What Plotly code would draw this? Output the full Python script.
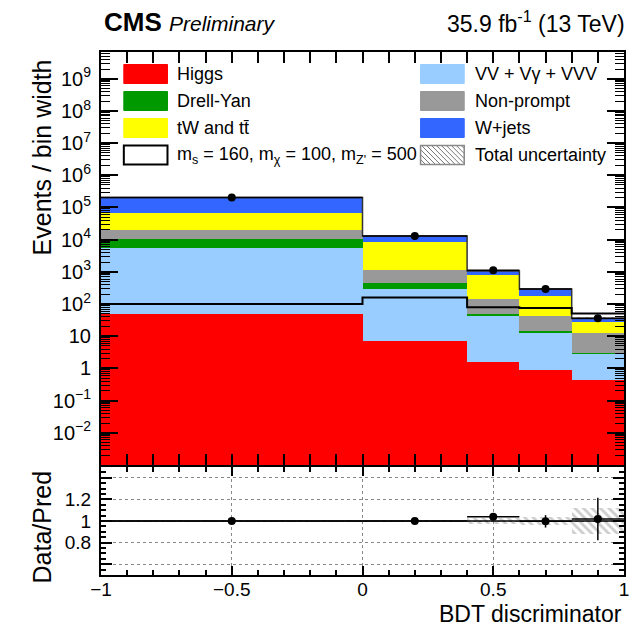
import plotly.graph_objects as go

# ---- figure geometry (pixels) ----
W, H = 641, 628
ML, MR, MT, MB = 101, 13, 52, 53
PW = W - ML - MR
PH = H - MT - MB
MAIN_BOTTOM_PX = 465
RATIO_TOP_PX = 467


def px_x(x):
    return (x - ML) / PW


def px_y(y):
    return (H - MB - y) / PH


# ---- binning ----
edges = [-1.0, 0.0, 0.4, 0.6, 0.8, 1.0]
centers = [-0.5, 0.2, 0.5, 0.7, 0.9]
half_widths = [0.5, 0.2, 0.1, 0.1, 0.1]
widths = [2 * h for h in half_widths]

# ---- background yields per bin (events / bin width) ----
higgs = [49, 7.3, 1.55, 0.89, 0.45]
vv = [5350, 293, 40.5, 12.1, 2.45]
drell_yan = [5100, 144, 7.0, 1.8, 0.02]
nonprompt = [10000, 726, 96, 28.2, 10.0]
top_quark = [46500, 7330, 649, 131, 14.1]
wjets = [138000, 4400, 276, 122, 8.6]

# ---- signal, data and uncertainties ----
signal = [100, 160, 79, 76, 51]
data = [205000, 12900, 1113, 295, 36.3]
data_err = [450, 115, 33, 17, 7.0]
rel_unc = [0.005, 0.01, 0.03, 0.04, 0.12]

# y-axis tick positions and labels of the main panel
major_exponents = list(range(-2, 10))
major_ticks = [10.0 ** e for e in major_exponents]
major_labels = ["1" if e == 0 else "10" if e == 1 else
                "10<sup>%s</sup>" % str(e).replace("-", "\u2212") for e in major_exponents]
minor_ticks = [m * 10.0 ** e for e in range(-3, 10) for m in range(2, 10)]

processes = [
    ("Higgs", higgs, "#FF0000"),
    ("VV + Vγ + VVV", vv, "#99CCFF"),
    ("Drell-Yan", drell_yan, "#009900"),
    ("Non-prompt", nonprompt, "#999999"),
    ("tW and tt̄", top_quark, "#FFFF00"),
    ("W+jets", wjets, "#3366FF"),
]

fig = go.Figure()

# stacked backgrounds, drawn with explicit bases so the stack is exact
base = [1e-5] * len(centers)
for name, vals, col in processes:
    fig.add_trace(go.Bar(
        x=centers, y=vals, base=list(base), width=widths, name=name,
        marker=dict(color=col, line=dict(width=0)),
        xaxis="x", yaxis="y", showlegend=False, hoverinfo="skip",
    ))
    base = [b + v for b, v in zip(base, vals)]

total = base

# total uncertainty band on the stack
fig.add_trace(go.Bar(
    x=centers, y=[2 * t * u for t, u in zip(total, rel_unc)],
    base=[t * (1 - u) for t, u in zip(total, rel_unc)], width=widths,
    marker=dict(color="rgba(0,0,0,0)",
                pattern=dict(shape="\\", fgcolor="#666666", size=6, solidity=0.3),
                line=dict(width=0)),
    xaxis="x", yaxis="y", showlegend=False, hoverinfo="skip",
))

# outline of the total prediction
fig.add_trace(go.Scatter(
    x=edges, y=total + [total[-1]], mode="lines", line=dict(shape="hv", color="#333333", width=1.5),
    xaxis="x", yaxis="y", showlegend=False, hoverinfo="skip",
))

# signal histogram outline
fig.add_trace(go.Scatter(
    x=edges, y=signal + [signal[-1]], mode="lines", line=dict(shape="hv", color="black", width=2),
    xaxis="x", yaxis="y", showlegend=False,
))

# data points
fig.add_trace(go.Scatter(
    x=centers, y=data, mode="markers",
    marker=dict(color="black", size=8),
    error_y=dict(type="data", array=data_err, color="black", thickness=1.5, width=0),
    error_x=dict(type="data", array=half_widths, color="black", thickness=1.5, width=0),
    xaxis="x", yaxis="y", showlegend=False,
))

# carrier trace for the minor-tick overlay axis
fig.add_trace(go.Scatter(
    x=[0], y=[1], mode="markers", marker=dict(opacity=0),
    xaxis="x", yaxis="y3", showlegend=False, hoverinfo="skip",
))

# ---- ratio panel ----
fig.add_trace(go.Bar(
    x=centers, y=[2 * u for u in rel_unc], base=[1 - u for u in rel_unc], width=widths,
    marker=dict(color="rgba(0,0,0,0)",
                pattern=dict(shape="\\", fgcolor="#999999", size=6, solidity=0.45),
                line=dict(width=0)),
    xaxis="x2", yaxis="y2", showlegend=False, hoverinfo="skip",
))
fig.add_trace(go.Scatter(
    x=[-1, 1], y=[1, 1], mode="lines", line=dict(color="black", width=1.5),
    xaxis="x2", yaxis="y2", showlegend=False, hoverinfo="skip",
))
ratio = [d / t for d, t in zip(data, total)]
ratio_err = [e / t for e, t in zip(data_err, total)]
fig.add_trace(go.Scatter(
    x=centers, y=ratio, mode="markers",
    marker=dict(color="black", size=8),
    error_y=dict(type="data", array=ratio_err, color="black", thickness=1.5, width=0),
    error_x=dict(type="data", array=half_widths, color="black", thickness=1.5, width=0),
    xaxis="x2", yaxis="y2", showlegend=False,
))

# ---- legend drawn as boxes + labels inside the plot frame ----
shapes = []
annotations = []
legend_rows = [74, 101, 128, 155]
box_w, box_h = 44, 19
left_box_x, right_box_x = 124, 423
left_txt_x, right_txt_x = 176, 476
legend_items = [
    (left_box_x, left_txt_x, legend_rows[0], "Higgs", "#FF0000"),
    (left_box_x, left_txt_x, legend_rows[1], "Drell-Yan", "#009900"),
    (left_box_x, left_txt_x, legend_rows[2], "tW and tt̄", "#FFFF00"),
    (right_box_x, right_txt_x, legend_rows[0], "VV + Vγ + VVV", "#99CCFF"),
    (right_box_x, right_txt_x, legend_rows[1], "Non-prompt", "#999999"),
    (right_box_x, right_txt_x, legend_rows[2], "W+jets", "#3366FF"),
]
for bx, tx, cy, label, col in legend_items:
    shapes.append(dict(type="rect", xref="paper", yref="paper",
                       x0=px_x(bx), x1=px_x(bx + box_w), y0=px_y(cy + box_h / 2), y1=px_y(cy - box_h / 2),
                       fillcolor=col, line=dict(color=col, width=1), layer="above"))
    annotations.append(dict(x=px_x(tx), y=px_y(cy), xref="paper", yref="paper", text=label,
                            showarrow=False, xanchor="left", yanchor="middle",
                            font=dict(size=18, color="black")))

# signal entry
cy = legend_rows[3]
shapes.append(dict(type="rect", xref="paper", yref="paper",
                   x0=px_x(left_box_x), x1=px_x(left_box_x + box_w),
                   y0=px_y(cy + box_h / 2), y1=px_y(cy - box_h / 2),
                   fillcolor="white", line=dict(color="black", width=2), layer="above"))
annotations.append(dict(x=px_x(left_txt_x), y=px_y(cy), xref="paper", yref="paper",
                        text="m<sub>s</sub> = 160, m<sub>χ</sub> = 100, m<sub>Z'</sub> = 500",
                        showarrow=False, xanchor="left", yanchor="middle",
                        font=dict(size=18, color="black")))

# total uncertainty entry: hatched box
x0, x1 = right_box_x, right_box_x + box_w
y0 = cy - box_h / 2
for d in range(-int(box_h), int(box_w), 5):
    t0 = max(0, -d)
    t1 = min(box_h, box_w - d)
    if t1 > t0:
        shapes.append(dict(type="line", xref="paper", yref="paper",
                           x0=px_x(x0 + d + t0), y0=px_y(y0 + t0),
                           x1=px_x(x0 + d + t1), y1=px_y(y0 + t1),
                           line=dict(color="#777777", width=1), layer="above"))
shapes.append(dict(type="rect", xref="paper", yref="paper",
                   x0=px_x(x0), x1=px_x(x1), y0=px_y(cy + box_h / 2), y1=px_y(cy - box_h / 2),
                   fillcolor="rgba(0,0,0,0)", line=dict(color="#888888", width=1.5), layer="above"))
annotations.append(dict(x=px_x(right_txt_x), y=px_y(cy), xref="paper", yref="paper",
                        text="Total uncertainty", showarrow=False, xanchor="left", yanchor="middle",
                        font=dict(size=18, color="black")))

# ---- header and axis titles ----
annotations += [
    dict(x=px_x(102), y=px_y(22), xref="paper", yref="paper",
         text="<b>CMS</b> <i><span style='font-size:21px'>Preliminary</span></i>",
         showarrow=False, xanchor="left", yanchor="middle", font=dict(size=26, color="black")),
    dict(x=px_x(631), y=px_y(22), xref="paper", yref="paper",
         text="35.9 fb<sup>-1</sup> (13 TeV)",
         showarrow=False, xanchor="right", yanchor="middle", font=dict(size=23, color="black")),
    dict(x=px_x(628), y=px_y(614), xref="paper", yref="paper", text="BDT discriminator",
         showarrow=False, xanchor="right", yanchor="middle", font=dict(size=23, color="black")),
    dict(x=px_x(42), y=px_y(57), xref="paper", yref="paper", text="Events / bin width",
         textangle=-90, showarrow=False, xanchor="center", yanchor="top",
         font=dict(size=25, color="black")),
    dict(x=px_x(42), y=px_y(527), xref="paper", yref="paper", text="Data/Pred",
         textangle=-90, showarrow=False, xanchor="center", yanchor="middle",
         font=dict(size=25, color="black")),
]

axis_common = dict(showline=True, linecolor="black", linewidth=2, mirror="allticks",
                   ticks="inside", tickcolor="black", zeroline=False)

main_dom = [px_y(MAIN_BOTTOM_PX), 1.0]
ratio_dom = [0.0, px_y(RATIO_TOP_PX)]
log_range = [-3, 9.83]

fig.update_layout(
    width=W, height=H,
    margin=dict(l=ML, r=MR, t=MT, b=MB, pad=0),
    paper_bgcolor="white", plot_bgcolor="white",
    font=dict(family="Liberation Sans, Arial, sans-serif", color="black", size=19),
    barmode="overlay", bargap=0,
    showlegend=False,
    shapes=shapes, annotations=annotations,
    xaxis=dict(domain=[0, 1], anchor="y", range=[-1, 1], tick0=-1, dtick=0.5,
               ticklen=11, tickwidth=1.5, showticklabels=False, showgrid=False,
               minor=dict(ticks="inside", dtick=0.1, tick0=-1, ticklen=6, tickcolor="black", showgrid=False),
               **axis_common),
    yaxis=dict(domain=main_dom, anchor="x", type="log", range=log_range,
               tickvals=major_ticks, ticktext=major_labels, ticklen=17, tickwidth=1.5, showgrid=False,
               tickfont=dict(size=20), ticklabelstandoff=4,
               **axis_common),
    yaxis3=dict(domain=main_dom, anchor="x", overlaying="y", type="log", range=log_range,
                tickvals=minor_ticks, ticks="inside", ticklen=9, tickwidth=1, tickcolor="black",
                showticklabels=False, showgrid=False, showline=False, zeroline=False, mirror="ticks"),
    xaxis2=dict(domain=[0, 1], anchor="y2", range=[-1, 1], tick0=-1, dtick=0.5,
                ticklen=9, tickwidth=1.5, showgrid=True, gridcolor="#888888", griddash="dot", gridwidth=1,
                minor=dict(ticks="inside", dtick=0.1, tick0=-1, ticklen=5, tickcolor="black", showgrid=False),
                tickfont=dict(size=19), ticklabelstandoff=-4,
                **axis_common),
    yaxis2=dict(domain=ratio_dom, anchor="x2", range=[0.5, 1.5],
                tickvals=[0.6, 0.8, 1.0, 1.2, 1.4], ticktext=["", "0.8", "1", "1.2", ""],
                ticklen=11, tickwidth=1.5, showgrid=True, gridcolor="#888888", griddash="dot", gridwidth=1,
                minor=dict(ticks="inside", dtick=0.05, tick0=0.5, ticklen=5, tickcolor="black", showgrid=False),
                tickfont=dict(size=19), ticklabelstandoff=4,
                **axis_common),
)

fig.write_html("out.html")
